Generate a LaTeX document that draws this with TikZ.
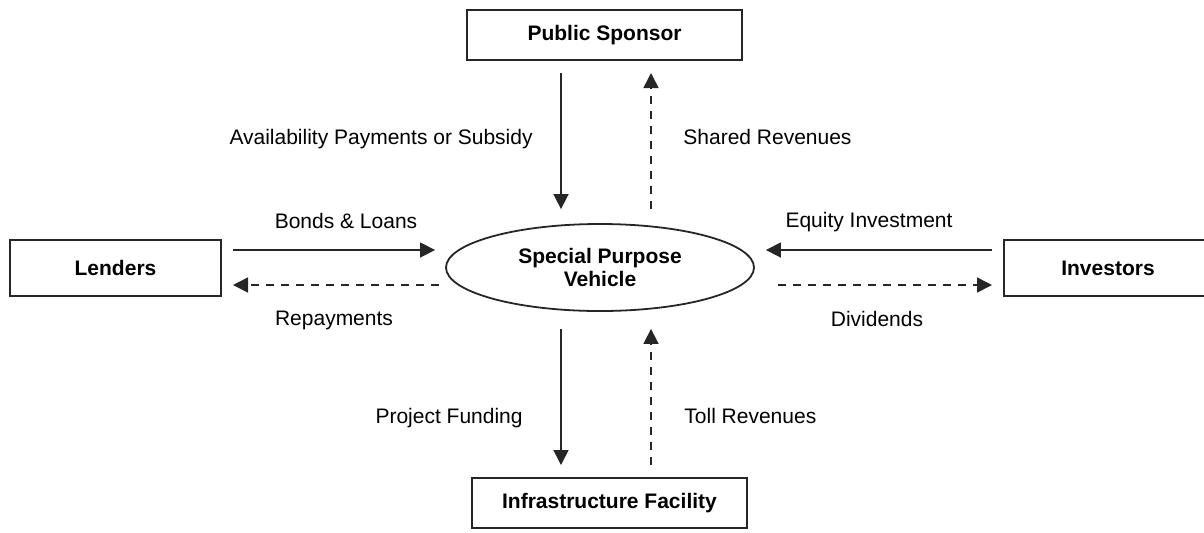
\documentclass[tikz,border=0pt]{standalone}
\usepackage{fontspec}
\setmainfont{Liberation Sans}
\usetikzlibrary{shapes.geometric, arrows.meta}
\tikzset{
  party/.style={
    rectangle,
    minimum width=137.5pt,
    minimum height=25pt,
    align=center,
    draw=black!85,
    line width=1pt,
    font=\fontsize{10.5}{12.6}\selectfont\bfseries
    },
  vehicle/.style={
    ellipse,
    minimum width=154pt,
    minimum height=43.5pt,
    inner sep=1pt,
    align=center,
    draw=black!85,
    line width=0.9pt,
    font=\fontsize{10.5}{11.5}\selectfont\bfseries
    },
  lbl/.style={
    inner sep=0pt,
    font=\fontsize{10.5}{12.6}\selectfont
    },
  flow/.style={
    -{Triangle[length=7.5pt,width=7.5pt]},
    line width=0.8pt,
    draw=black!85
    },
  backflow/.style={
    flow,
    dash pattern=on 4pt off 3.5pt
    }
}

\begin{document}
\begin{tikzpicture}[x=0.5pt, y=-0.5pt]
\useasboundingbox (0,0) rectangle (1204,532);
\node (sponsor) [party] at (604.5,35) {Public Sponsor};
\node (lenders) [party, minimum width=105.5pt, minimum height=28pt] at (115.5,268) {Lenders};
\node (investors) [party, minimum width=104pt, minimum height=28pt] at (1108,268) {Investors};
\node (facility) [party] at (609.5,503) {Infrastructure Facility};
\node (spv) [vehicle] at (600,267.5) {Special Purpose\\Vehicle};
% lanes of the money flows
\coordinate (down) at (561,0);
\coordinate (up) at (651,0);
\coordinate (inrow) at (0,250);
\coordinate (outrow) at (0,285);
\draw[flow, shorten <=6pt, shorten >=7pt] (sponsor.south -| down) -- (spv.north -| down);
\draw[backflow, shorten <=7pt, shorten >=6pt] (spv.north -| up) -- (sponsor.south -| up);
\draw[flow, shorten <=8.5pt, shorten >=6pt] (spv.south -| down) -- (facility.north -| down);
\draw[backflow, shorten <=6pt, shorten >=8.5pt] (facility.north -| up) -- (spv.south -| up);
\draw[flow, shorten <=5.5pt, shorten >=5pt] (lenders.east |- inrow) -- (spv.west |- inrow);
\draw[backflow, shorten <=3pt, shorten >=5.5pt] (spv.west |- outrow) -- (lenders.east |- outrow);
\draw[flow, shorten <=5.5pt, shorten >=5.5pt] (investors.west |- inrow) -- (spv.east |- inrow);
\draw[backflow, shorten <=11.5pt, shorten >=5.5pt] (spv.east |- outrow) -- (investors.west |- outrow);
% labels
\node (availability) [lbl, anchor=base east] at (533,144) {Availability Payments or Subsidy};
\node (shared) [lbl, anchor=base west] at (683,144) {Shared Revenues};
\node (bonds) [lbl, anchor=base] at (346,228) {Bonds \& Loans};
\node (equity) [lbl, anchor=base] at (869,227) {Equity Investment};
\node (repay) [lbl, anchor=base] at (334,325) {Repayments};
\node (dividends) [lbl, anchor=base] at (877,326) {Dividends};
\node (funding) [lbl, anchor=base east] at (523,423) {Project Funding};
\node (toll) [lbl, anchor=base west] at (684,423) {Toll Revenues};
\end{tikzpicture}
\end{document}
